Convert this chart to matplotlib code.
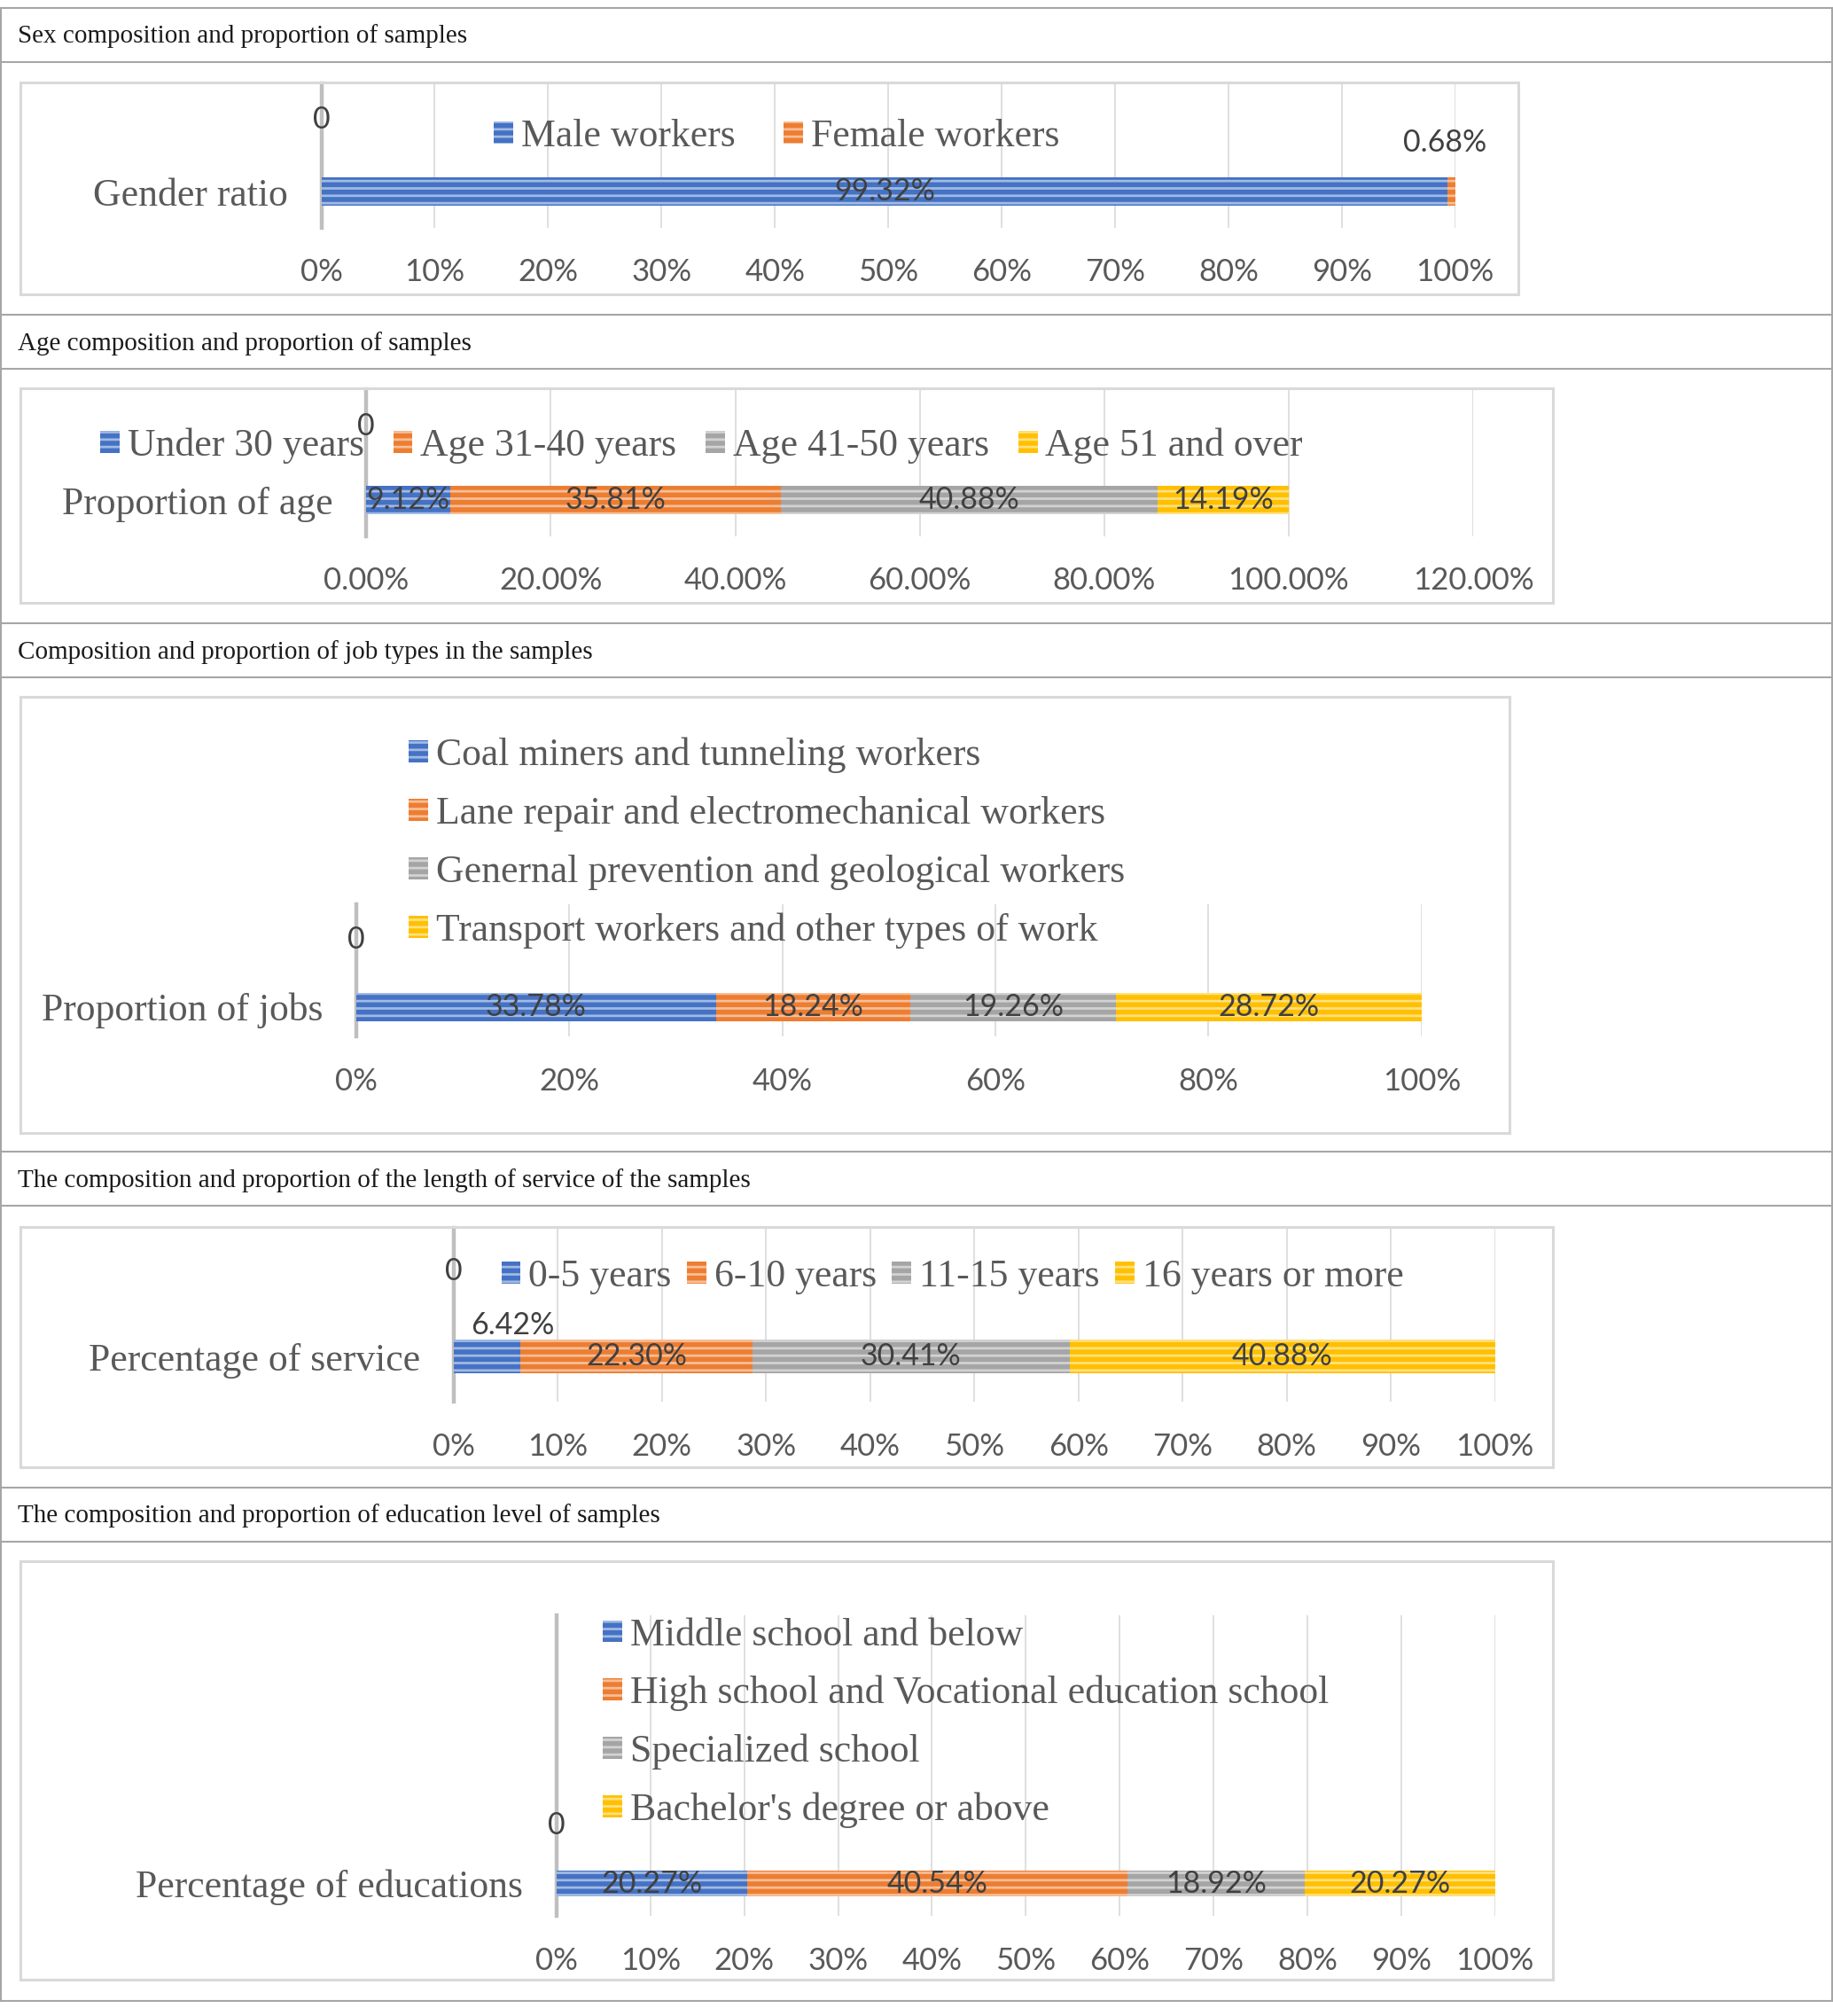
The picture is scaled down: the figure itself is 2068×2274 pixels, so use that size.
import matplotlib
matplotlib.use("Agg")
import matplotlib.pyplot as plt
from matplotlib.lines import Line2D
from matplotlib.patches import Rectangle
from matplotlib.colors import to_rgb
from matplotlib.ticker import MultipleLocator, FuncFormatter

# layout grid: reference pixels / 1.45
W, H = 1426, 1568

SERIF = ["Liberation Serif", "DejaVu Serif"]
SANS = ["Lato", "DejaVu Sans"]
TEXT_GREY = "#595959"
LABEL_DARK = "#404040"
GRID = "#D9D9D9"
AXIS_LINE = "#BFBFBF"
TABLE_LINE = "#A6A6A6"
SERIES_COLORS = ["#4472C4", "#ED7D31", "#A5A5A5", "#FFC000"]

plt.rcParams["hatch.linewidth"] = 2.0

# ── Data ──────────────────────────────────────────────────────────────────────
titles = [
    "Sex composition and proportion of samples",
    "Age composition and proportion of samples",
    "Composition and proportion of job types in the samples",
    "The composition and proportion of the length of service of the samples",
    "The composition and proportion of education level of samples",
]
categories = ["Gender ratio", "Proportion of age", "Proportion of jobs",
              "Percentage of service", "Percentage of educations"]

gender_labels = ["Male workers", "Female workers"]
gender_values = [99.32, 0.68]

age_labels = ["Under 30 years", "Age 31-40 years", "Age 41-50 years", "Age 51 and over"]
age_values = [9.12, 35.81, 40.88, 14.19]

job_labels = ["Coal miners and tunneling workers",
              "Lane repair and electromechanical workers",
              "Genernal prevention and geological workers",
              "Transport workers and other types of work"]
job_values = [33.78, 18.24, 19.26, 28.72]

service_labels = ["0-5 years", "6-10 years", "11-15 years", "16 years or more"]
service_values = [6.42, 22.30, 30.41, 40.88]

edu_labels = ["Middle school and below",
              "High school and Vocational education school",
              "Specialized school",
              "Bachelor's degree or above"]
edu_values = [20.27, 40.54, 18.92, 20.27]

# ── Layout (grid units) ───────────────────────────────────────────────────────
title_y = [28, 267, 507, 918, 1179]
table_lines = [6, 48, 245, 287, 485, 527, 896, 938, 1157, 1199, 1556]

panels = [
    dict(labels=gender_labels, values=gender_values,
         box=(16, 64, 1181, 229), axes=(250, 65, 1132, 177),
         xmax=100, step=10, fmt="{:.0f}%", bar_y=149, bar_h=22, zero_y=93,
         legend=(384, 106), ncol=2, colsp=1.25, lsp=0.3, small={1: (-8, 111)}),
    dict(labels=age_labels, values=age_values,
         box=(16, 302, 1208, 469), axes=(285, 303, 1146, 417),
         xmax=120, step=20, fmt="{:.2f}%", bar_y=389, bar_h=22, zero_y=332,
         legend=(78, 347), ncol=4, colsp=0.75, lsp=0.3, small={}),
    dict(labels=job_labels, values=job_values,
         box=(16, 542, 1174, 881), axes=(277, 703, 1106, 806),
         xmax=100, step=20, fmt="{:.0f}%", bar_y=783, bar_h=22, zero_y=731,
         legend=(318, 655.5), ncol=1, colsp=1.0, lsp=0.58, small={}),
    dict(labels=service_labels, values=service_values,
         box=(16, 954, 1208, 1141), axes=(353, 955, 1163, 1090),
         xmax=100, step=10, fmt="{:.0f}%", bar_y=1055, bar_h=26, zero_y=989,
         legend=(390, 993), ncol=4, colsp=0.4, lsp=0.3, small={0: (-6, 1031)}),
    dict(labels=edu_labels, values=edu_values,
         box=(16, 1214, 1208, 1540), axes=(433, 1256, 1163, 1490),
         xmax=100, step=10, fmt="{:.0f}%", bar_y=1465, bar_h=20, zero_y=1420,
         legend=(469, 1340), ncol=1, colsp=1.0, lsp=0.58, small={}),
]


def fx(x):
    return x / W


def fy(y):
    return 1 - y / H


def lighten(c, f):
    r, g, b = to_rgb(c)
    return (r + (1 - r) * f, g + (1 - g) * f, b + (1 - b) * f)


fig = plt.figure(figsize=(20.68, 22.74), dpi=100)
fig.patch.set_facecolor("white")

# table frame
for y in table_lines:
    fig.add_artist(Line2D([0, 1], [fy(y), fy(y)], transform=fig.transFigure,
                          color=TABLE_LINE, lw=1.5))
for x in (1, 1425):
    fig.add_artist(Line2D([fx(x), fx(x)], [fy(table_lines[0]), fy(table_lines[-1])],
                          transform=fig.transFigure, color=TABLE_LINE, lw=1.5))

for title, ty in zip(titles, title_y):
    fig.text(fx(14), fy(ty), title, ha="left", va="center",
             family=SERIF, fontsize=21, color="#1a1a1a")

for p, cat in zip(panels, categories):
    bx0, by0, bx1, by1 = p["box"]
    fig.add_artist(Rectangle((fx(bx0), fy(by1)), fx(bx1) - fx(bx0), fy(by0) - fy(by1),
                             transform=fig.transFigure, fill=False,
                             edgecolor=GRID, lw=2.2))

    x0, y0, x1, y1 = p["axes"]
    ax = fig.add_axes([fx(x0), fy(y1), fx(x1) - fx(x0), fy(y0) - fy(y1)])
    ax.set_facecolor("none")

    left = 0
    handles = []
    for i, (lab, val) in enumerate(zip(p["labels"], p["values"])):
        base = SERIES_COLORS[i]
        bc = ax.barh([0], [val], left=[left], height=p["bar_h"], color=base,
                     edgecolor=lighten(base, 0.5), linewidth=0, hatch="--",
                     label=lab, zorder=3)
        handles.append(bc)
        txt = f"{val:.2f}%"
        if i in p["small"]:
            dx, ly = p["small"][i]
            ax.annotate(txt, (left + val, p["bar_y"] - ly), xytext=(dx * 1.45 * 0.72, 0),
                        textcoords="offset points", ha="center", va="center",
                        family=SANS, fontsize=24.5, color=LABEL_DARK, zorder=5)
        else:
            ax.bar_label(bc, labels=[txt], label_type="center",
                         family=SANS, fontsize=24.5, color=LABEL_DARK, zorder=5)
        left += val

    ax.set_xlim(0, p["xmax"])
    ax.set_ylim(-(y1 - p["bar_y"]), p["bar_y"] - y0)
    ax.xaxis.set_major_locator(MultipleLocator(p["step"]))
    ax.xaxis.set_major_formatter(FuncFormatter(lambda v, _, f=p["fmt"]: f.format(v)))
    ax.set_yticks([0])
    ax.set_yticklabels([cat])
    ax.tick_params(axis="x", length=0, pad=25, labelsize=25, labelcolor=TEXT_GREY)
    ax.tick_params(axis="y", length=0, pad=27, labelsize=31.5, labelcolor=TEXT_GREY)
    for lbl in ax.get_xticklabels():
        lbl.set_family(SANS)
    for lbl in ax.get_yticklabels():
        lbl.set_family(SERIF)
    for s in ax.spines.values():
        s.set_visible(False)
    ax.grid(axis="x", color=GRID, lw=1.2, zorder=0)
    ax.set_axisbelow(True)
    ax.axvline(0, color=AXIS_LINE, lw=3.2, zorder=2, clip_on=False)

    ax.text(0, p["bar_y"] - p["zero_y"], "0", ha="center", va="center",
            family=SANS, fontsize=24.5, color=LABEL_DARK, zorder=5)

    lx, ly = p["legend"]
    ax.legend(handles=handles, labels=p["labels"], loc="center left",
              bbox_to_anchor=(fx(lx), fy(ly)), bbox_transform=fig.transFigure,
              ncol=p["ncol"], frameon=False, borderpad=0, borderaxespad=0,
              handlelength=0.5, handleheight=0.5, handletextpad=0.2,
              columnspacing=p["colsp"], labelspacing=p["lsp"],
              prop=dict(family=SERIF, size=31.5), labelcolor=TEXT_GREY)

fig.savefig("out.png", dpi=100, facecolor="white")
